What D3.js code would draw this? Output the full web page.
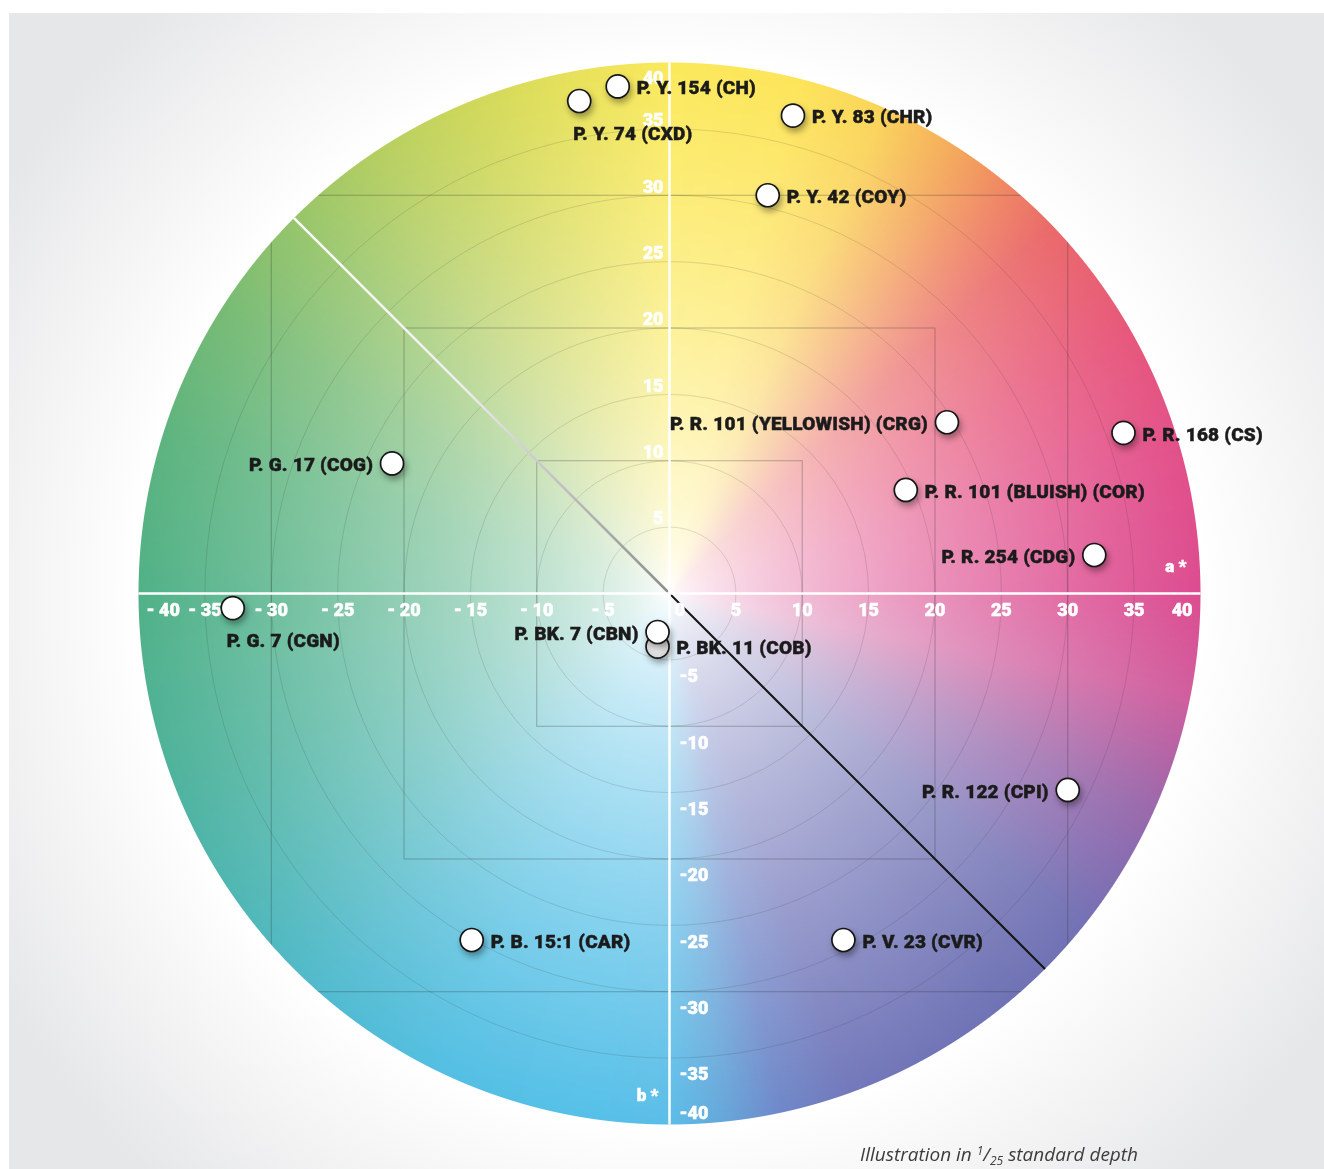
<!DOCTYPE html>
<meta charset="utf-8">
<script src="https://cdn.jsdelivr.net/npm/d3@7"></script>
<style>
body { margin: 0; background: #fff; }
#wrap { position: relative; width: 1324px; height: 1169px; overflow: hidden; }
#wrap canvas, #wrap svg { position: absolute; left: 0; top: 0; }
</style>
<body>
<div id="wrap"></div>
<script>
var width = 1324,
    height = 1169;

// pigments: name, a*, b*
var pigments = ['P. Y. 154 (CH)', 'P. Y. 74 (CXD)', 'P. Y. 83 (CHR)', 'P. Y. 42 (COY)',
  'P. R. 101 (YELLOWISH) (CRG)', 'P. R. 168 (CS)', 'P. G. 17 (COG)', 'P. R. 101 (BLUISH) (COR)',
  'P. R. 254 (CDG)', 'P. G. 7 (CGN)', 'P. BK. 11 (COB)', 'P. BK. 7 (CBN)',
  'P. R. 122 (CPI)', 'P. B. 15:1 (CAR)', 'P. V. 23 (CVR)'];
var aValues = [-3.9, -6.8, 9.3, 7.4, 20.9, 34.2, -20.9, 17.8, 32.0, -32.9, -0.9, -0.9, 30.0, -14.9, 13.1];
var bValues = [38.2, 37.1, 36.0, 30.0, 12.9, 12.1, 9.8, 7.8, 2.9, -1.1, -4.0, -2.9, -14.8, -26.1, -26.1];
var labelSide = ['right', 'below', 'right', 'right', 'left', 'right', 'left', 'right',
  'left', 'below', 'right', 'left', 'left', 'right', 'right'];

var axisTicks = d3.range(-40, 41, 5);
var ringValues = [5, 10, 15, 20, 25, 30, 35];
var squareValues = [10, 20, 30];

// hue around the wheel: angle (deg, counter-clockwise from +a*) -> colour at the rim
var hueAngles = [0, 15, 30, 44, 50, 57, 66, 76, 90, 102, 112, 124, 135, 147, 162, 180, 200, 215, 230, 245, 262, 270, 276, 282, 290, 310, 321, 330, 336, 349, 360];
var hueColors = ['#dc4c90', '#e2508a', '#e7587b', '#ea6a6a', '#ef8463', '#f4a85c', '#fad359', '#fde55a', '#fbe95b', '#e4e05a',
  '#cfd85a', '#b4ce62', '#96c56a', '#78bb74', '#5eb47e', '#50b187', '#4fb39c', '#50b7b4', '#52bbd0', '#53bfe3',
  '#56c0e8', '#5bbde7', '#66a6da', '#6f88c9', '#7378ba', '#6f72b4', '#7272b4', '#8a6cb0', '#9a69ab', '#d15e9e', '#dc4c90'];

var cx = 669.5, cy = 593.5, R = 531;
var x = d3.scaleLinear().domain([-40, 40]).range([cx - R, cx + R]);
var y = d3.scaleLinear().domain([-40, 40]).range([cy + R, cy - R]);
var hue = d3.scaleLinear().domain(hueAngles).range(hueColors).interpolate(d3.interpolateRgb);
var fade = d3.scalePow().exponent(0.7).domain([0, R]).range([0, 1]);

var wrap = d3.select('#wrap');

// ---- background panel + colour wheel on canvas
var canvas = wrap.append('canvas').attr('width', width).attr('height', height).node();
var ctx = canvas.getContext('2d');
ctx.fillStyle = '#fff';
ctx.fillRect(0, 0, width, height);
var bg = ctx.createRadialGradient(cx, cy, 530, cx, cy, 780);
bg.addColorStop(0, '#ffffff');
bg.addColorStop(1, '#e6e7e8');
ctx.fillStyle = bg;
ctx.fillRect(9, 13, width - 9, height - 13);

var lut = d3.range(3600).map(function(i) { return d3.rgb(hue(i / 10)); });
var x0 = Math.floor(cx - R - 2), y0 = Math.floor(cy - R - 2), n = Math.ceil(2 * R + 5);
var off = document.createElement('canvas');
off.width = n; off.height = n;
var octx = off.getContext('2d');
var img = octx.createImageData(n, n);
for (var j = 0; j < n; j++) {
  for (var i = 0; i < n; i++) {
    var dx = x0 + i + 0.5 - cx, dy = cy - (y0 + j + 0.5);
    var r = Math.sqrt(dx * dx + dy * dy);
    var cov = Math.max(0, Math.min(1, R - r + 0.5));
    if (cov <= 0) continue;
    var ang = Math.atan2(dy, dx) * 180 / Math.PI;
    if (ang < 0) ang += 360;
    var c = lut[Math.floor(ang * 10) % 3600];
    var t = fade(Math.min(r, R));
    var k = (j * n + i) * 4;
    img.data[k] = 255 + (c.r - 255) * t;
    img.data[k + 1] = 255 + (c.g - 255) * t;
    img.data[k + 2] = 255 + (c.b - 255) * t;
    img.data[k + 3] = cov * 255;
  }
}
octx.putImageData(img, 0, 0);
ctx.drawImage(off, x0, y0);

// ---- overlay
var svg = wrap.append('svg').attr('width', width).attr('height', height);
var defs = svg.append('defs');
defs.append('clipPath').attr('id', 'wheel').append('circle').attr('cx', cx).attr('cy', cy).attr('r', R);
var shadow = defs.append('filter').attr('id', 'shadow').attr('x', '-60%').attr('y', '-60%').attr('width', '240%').attr('height', '240%');
shadow.append('feDropShadow').attr('dx', 2).attr('dy', 4).attr('stdDeviation', 3)
  .attr('flood-color', '#000').attr('flood-opacity', 0.35);
var diag = defs.append('linearGradient').attr('id', 'diag').attr('gradientUnits', 'userSpaceOnUse')
  .attr('x1', x(-40 * Math.SQRT1_2)).attr('y1', y(40 * Math.SQRT1_2)).attr('x2', cx).attr('y2', cy);
diag.append('stop').attr('offset', 0).attr('stop-color', '#ffffff');
diag.append('stop').attr('offset', 0.45).attr('stop-color', '#eeeeee');
diag.append('stop').attr('offset', 1).attr('stop-color', '#8c8c8c');
var cobFill = defs.append('radialGradient').attr('id', 'cobFill');
cobFill.append('stop').attr('offset', 0).attr('stop-color', '#f6f6f6');
cobFill.append('stop').attr('offset', 1).attr('stop-color', '#d4d4d4');

var grid = svg.append('g').attr('clip-path', 'url(#wheel)').attr('fill', 'none');
grid.selectAll('circle.ring').data(ringValues).enter().append('circle')
  .attr('class', 'ring')
  .attr('cx', cx).attr('cy', cy)
  .attr('r', function(d) { return x(d) - cx; })
  .attr('stroke', 'rgba(40,40,40,0.16)').attr('stroke-width', 0.9);
grid.selectAll('rect.sq').data(squareValues).enter().append('rect')
  .attr('class', 'sq')
  .attr('x', function(d) { return x(-d); }).attr('y', function(d) { return y(d); })
  .attr('width', function(d) { return x(d) - x(-d); })
  .attr('height', function(d) { return y(-d) - y(d); })
  .attr('stroke', 'rgba(40,40,40,0.3)').attr('stroke-width', 1);

// diagonals
var dv = 40 * Math.SQRT1_2;
svg.append('line').attr('x1', x(-dv)).attr('y1', y(dv)).attr('x2', cx).attr('y2', cy)
  .attr('stroke', 'url(#diag)').attr('stroke-width', 2.5);
svg.append('line').attr('x1', cx).attr('y1', cy).attr('x2', x(dv)).attr('y2', y(-dv))
  .attr('stroke', '#151515').attr('stroke-width', 2);

// axes
svg.append('line').attr('x1', x(-40)).attr('x2', x(40)).attr('y1', cy).attr('y2', cy)
  .attr('stroke', '#fff').attr('stroke-width', 2.5);
svg.append('line').attr('x1', cx).attr('x2', cx).attr('y1', y(40)).attr('y2', y(-40))
  .attr('stroke', '#fff').attr('stroke-width', 2.5);

var tickFont = { 'font-family': 'Roboto, sans-serif', 'font-weight': 900, 'font-size': '18px', fill: '#fff',
  stroke: '#fff', 'stroke-width': 0.5 };
function applyFont(sel, f) { Object.keys(f).forEach(function(k) { sel.attr(k, f[k]); }); return sel; }

// a* ticks
var aT = applyFont(svg.append('g'), tickFont);
aT.selectAll('text').data(axisTicks).enter().append('text')
  .attr('x', function(d) {
    if (d === -40) return x(d) + 8;
    if (d === 40) return x(d) - 8;
    if (d === 0) return x(d) + 5;
    return x(d);
  })
  .attr('y', cy + 16)
  .attr('dy', '0.35em')
  .attr('text-anchor', function(d) { return d === -40 || d === 0 ? 'start' : d === 40 ? 'end' : 'middle'; })
  .text(function(d) { return d < 0 ? '- ' + Math.abs(d) : String(d); });

// b* ticks
var bT = applyFont(svg.append('g'), tickFont);
bT.selectAll('text').data(axisTicks.filter(function(d) { return d !== 0; })).enter().append('text')
  .attr('x', function(d) { return d > 0 ? cx - 6 : cx + 10; })
  .attr('y', function(d) {
    if (d === 40) return y(d) + 15;
    if (d === -40) return y(d) - 12;
    return d > 0 ? y(d) - 9 : y(d) + 16;
  })
  .attr('dy', '0.35em')
  .attr('text-anchor', function(d) { return d > 0 ? 'end' : 'start'; })
  .text(function(d) { return d < 0 ? '-' + Math.abs(d) : String(d); });

applyFont(svg.append('text'), tickFont).attr('x', x(40) - 14).attr('y', cy - 27).attr('dy', '0.35em')
  .attr('text-anchor', 'end').attr('font-size', '17px').text('a *');
applyFont(svg.append('text'), tickFont).attr('x', cx - 11).attr('y', y(-40) - 29).attr('dy', '0.35em')
  .attr('text-anchor', 'end').attr('font-size', '17px').text('b *');

// pigment markers
var pts = pigments.map(function(name, i) {
  return { name: name, a: aValues[i], b: bValues[i], side: labelSide[i] };
});
var mk = svg.append('g').selectAll('g').data(pts).enter().append('g')
  .attr('transform', function(d) { return 'translate(' + x(d.a) + ',' + y(d.b) + ')'; });
mk.append('circle')
  .attr('r', 11.5)
  .attr('fill', function(d) { return d.name === 'P. BK. 11 (COB)' ? 'url(#cobFill)' : '#fff'; })
  .attr('stroke', '#161616').attr('stroke-width', 1.7)
  .attr('filter', 'url(#shadow)');
mk.append('text')
  .attr('font-family', 'Roboto, sans-serif').attr('font-weight', 900).attr('font-size', '19px')
  .attr('letter-spacing', '0.2px')
  .attr('fill', '#1b1b1b').attr('stroke', '#1b1b1b').attr('stroke-width', 0.45)
  .attr('x', function(d) { return d.side === 'right' ? 19 : d.side === 'left' ? -19 : -6; })
  .attr('y', function(d) { return d.side === 'below' ? 32 : 1; })
  .attr('dy', '0.35em')
  .attr('text-anchor', function(d) { return d.side === 'left' ? 'end' : 'start'; })
  .text(function(d) { return d.name; });

// caption
var cap = svg.append('text').attr('x', 860).attr('y', 1161)
  .attr('font-family', '"Open Sans", sans-serif').attr('font-style', 'italic').attr('font-size', '19px')
  .attr('fill', '#3c3c3c');
cap.append('tspan').text('Illustration in ');
cap.append('tspan').attr('font-size', '12px').attr('dy', -6).text('1');
cap.append('tspan').attr('dy', 6).text('/');
cap.append('tspan').attr('font-size', '12px').attr('dy', 4).text('25');
cap.append('tspan').attr('dy', -4).text(' standard depth');
</script>
